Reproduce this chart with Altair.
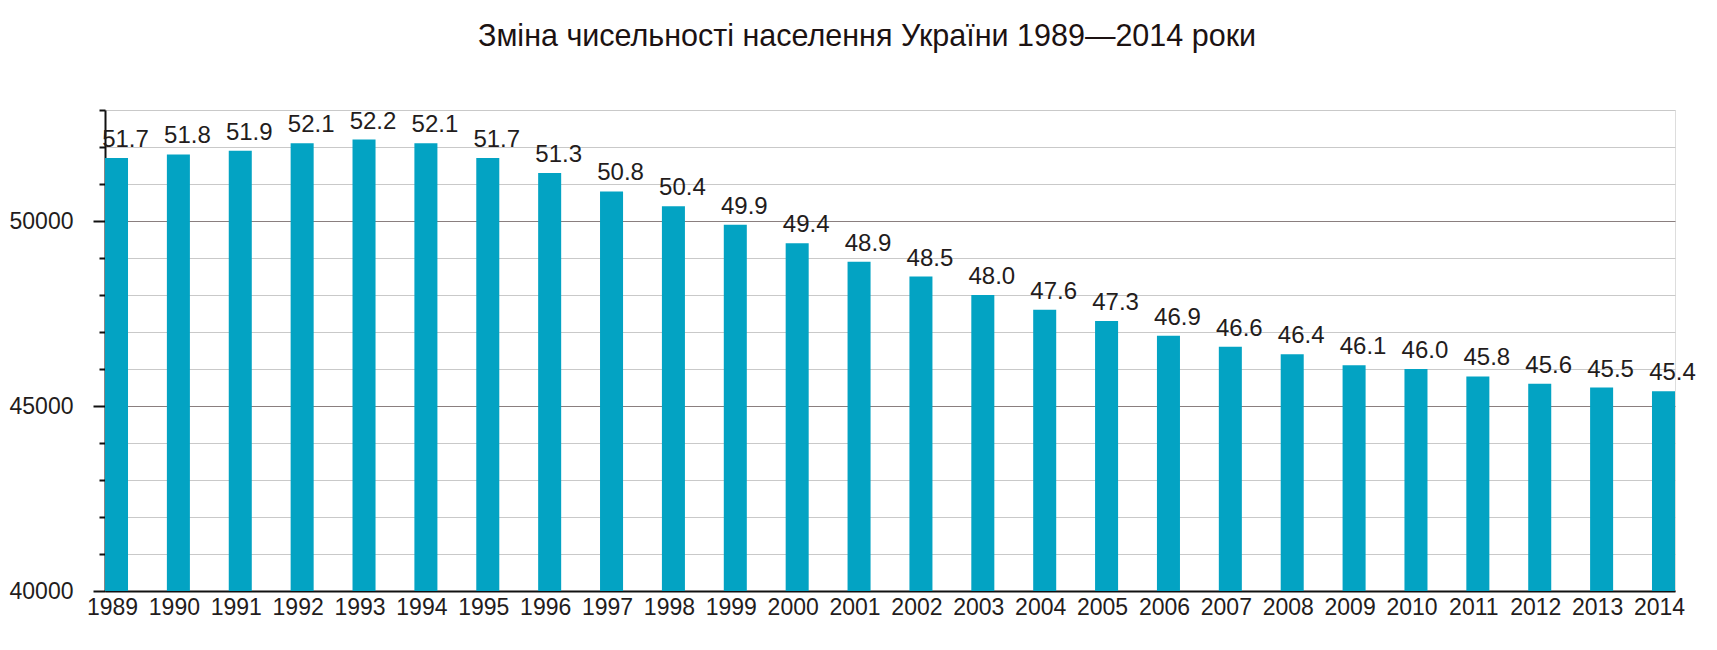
import altair as alt
import pandas as pd

years = [str(y) for y in range(1989, 2015)]
population_mln = [51.7, 51.8, 51.9, 52.1, 52.2, 52.1, 51.7, 51.3, 50.8, 50.4,
                  49.9, 49.4, 48.9, 48.5, 48.0, 47.6, 47.3, 46.9, 46.6, 46.4,
                  46.1, 46.0, 45.8, 45.6, 45.5, 45.4]
y_ticks = list(range(40000, 54000, 1000))
y_base = 40000
title_text = "Зміна чисельності населення України 1989—2014 роки"

df = pd.DataFrame({
    "year": years,
    "pop": [v * 1000 for v in population_mln],
    "label": [f"{v:.1f}" for v in population_mln],
})

FONT = "Liberation Sans"
TXT = "#231c1c"

x = alt.X("year:N", sort=years,
          scale=alt.Scale(paddingInner=0.628, paddingOuter=0),
          axis=alt.Axis(title=None, labelAngle=0, ticks=False,
                        domain=True, domainColor="#111111", domainWidth=2,
                        labelFont=FONT, labelFontSize=23, labelColor=TXT,
                        labelPadding=5, labelOffset=-4, grid=False))

y = alt.Y("pop:Q",
          scale=alt.Scale(domain=[40000, 53000], nice=False, zero=False),
          axis=alt.Axis(title=None, values=y_ticks, tickCount=14,
                        labelOverlap=False,
                        labelExpr="datum.value % 5000 === 0 ? datum.value : ''",
                        labelFont=FONT, labelFontSize=23, labelColor=TXT,
                        labelPadding=20,
                        tickSize={"condition": {"test": "datum.value % 5000 === 0", "value": 12}, "value": 6},
                        tickColor="#111111", tickWidth=2,
                        domainColor="#111111", domainWidth=2,
                        gridColor={"condition": {"test": "datum.value % 5000 === 0", "value": "#8a7f7f"}, "value": "#c9c9c9"},
                        gridWidth=1.2))

base = alt.Chart(df).encode(x=x, y=y)

bars = base.mark_bar(color="#03a3c3").encode(y2=alt.Y2(datum=y_base))

labels = base.mark_text(
    font=FONT, fontSize=24, color=TXT, align="center", baseline="alphabetic",
    dx=9, dy=-11
).encode(text="label:N")

chart = alt.layer(bars, labels).properties(
    width=1570, height=481,
    title=alt.TitleParams(title_text, font=FONT, fontSize=30.5, color="#1c1212",
                          fontWeight="normal", anchor="middle", frame="group",
                          dx=-23, offset=47),
    autosize=alt.AutoSizeParams(type="none"),
    padding={"left": 97, "top": 102, "right": 30, "bottom": 40},
).configure_view(stroke=None).configure(background="white")

chart.save("out.html", embed_options={"renderer": "svg", "actions": False})
